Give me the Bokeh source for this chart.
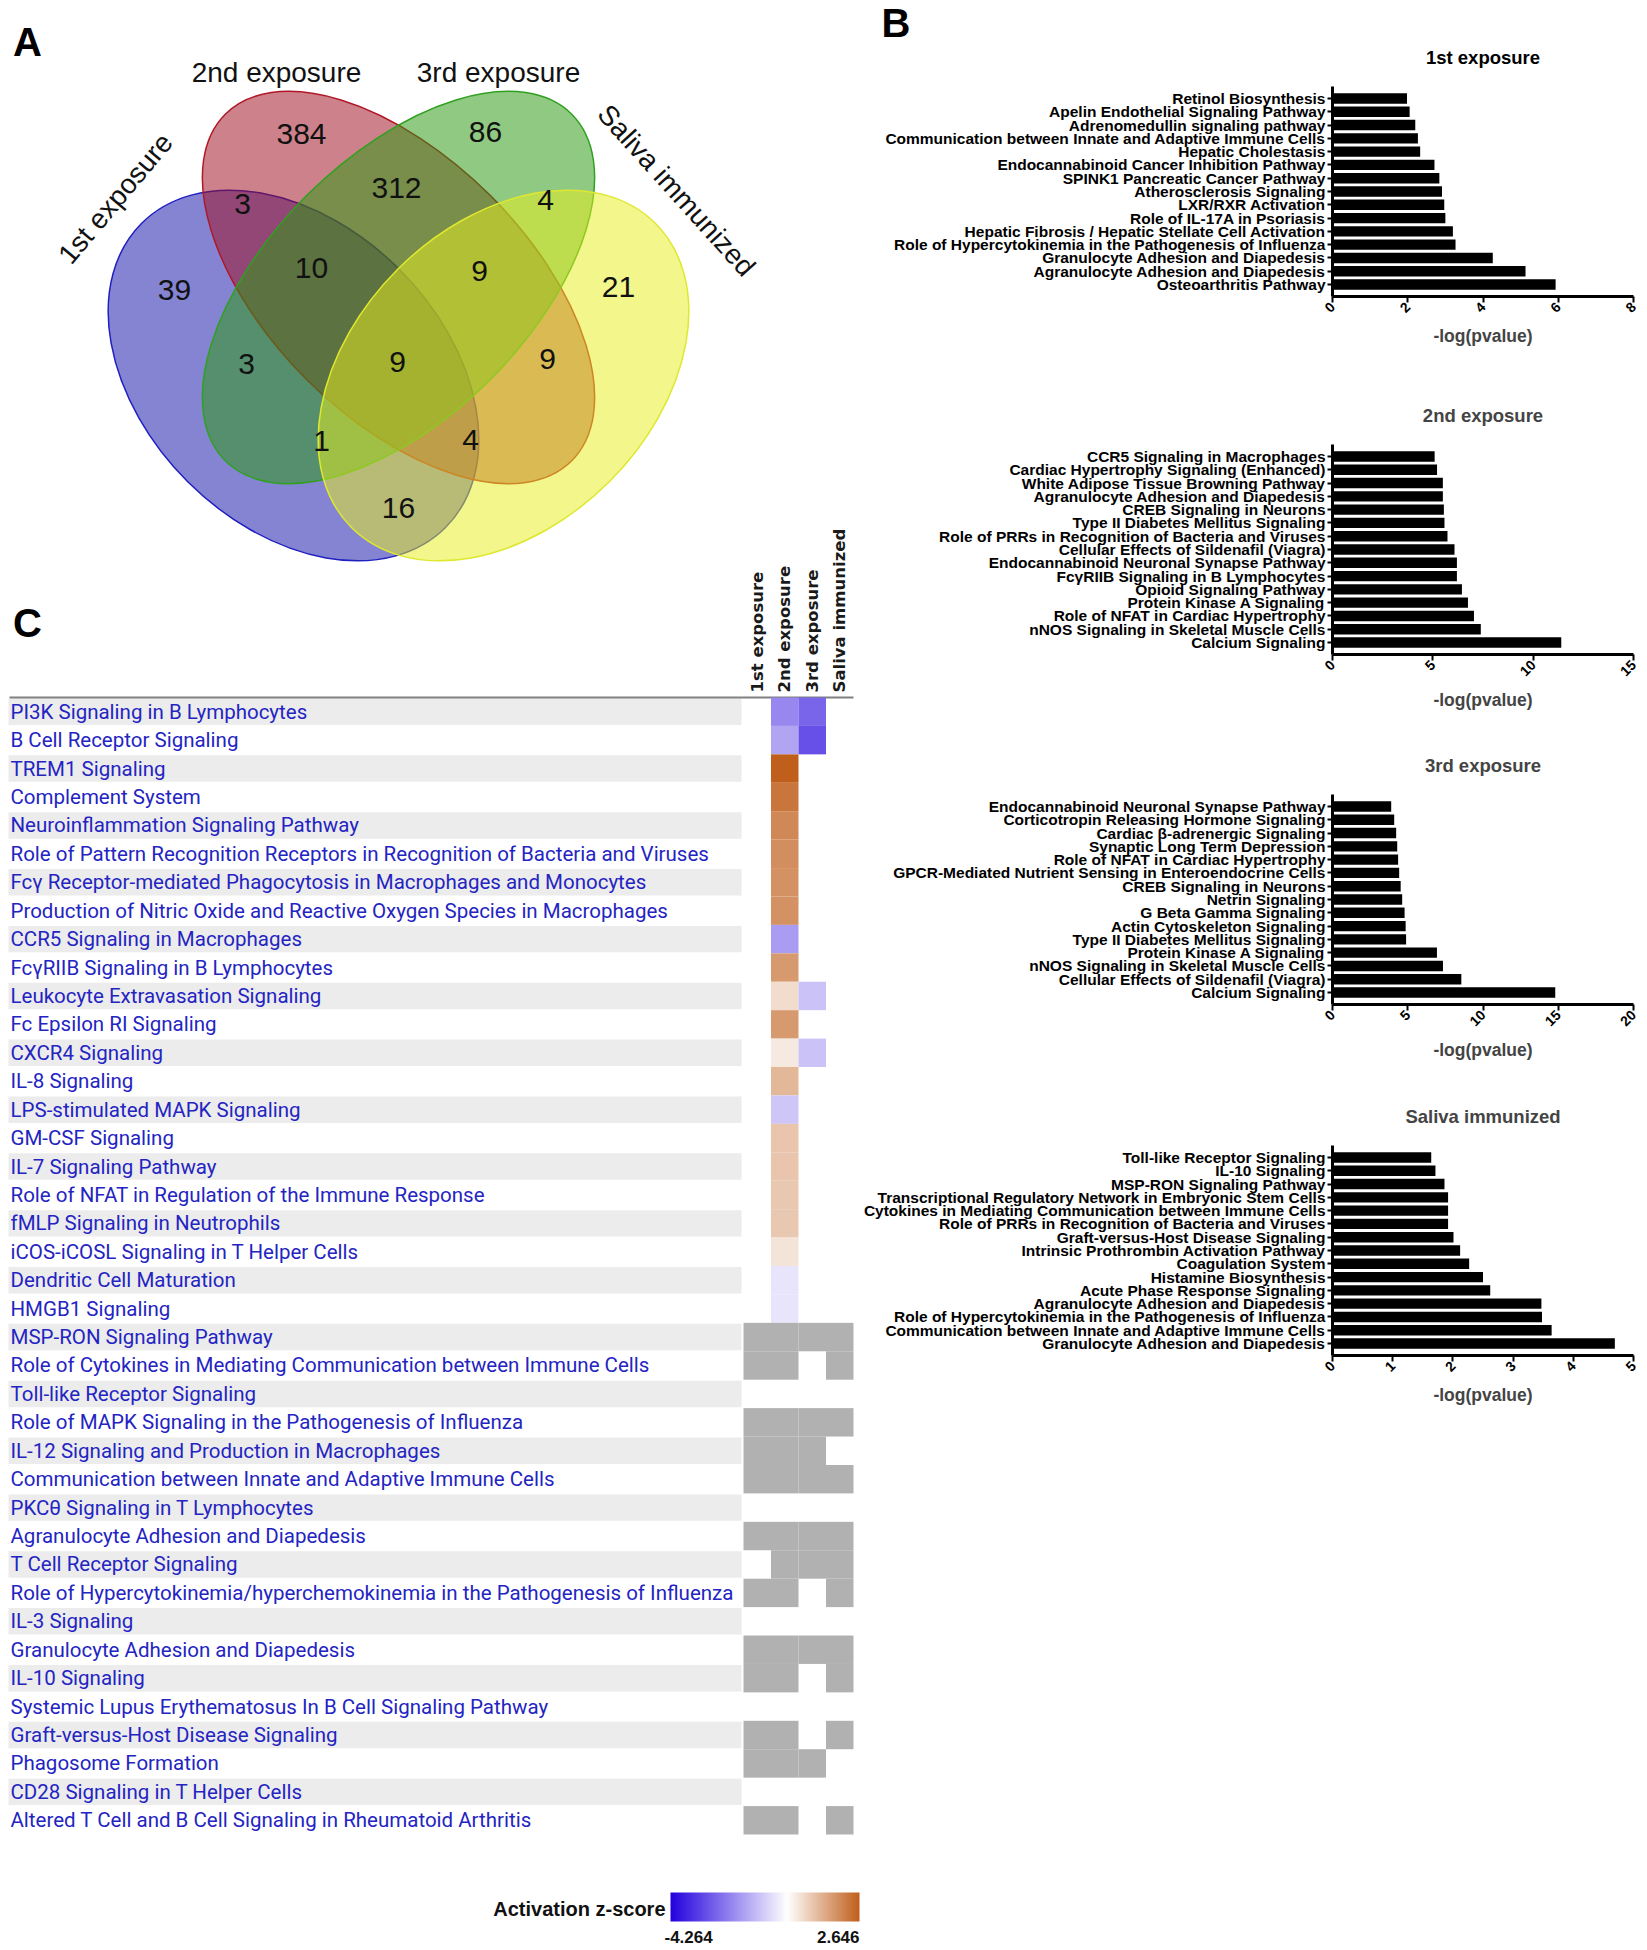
import math
from bokeh.plotting import figure
from bokeh.models import (Range1d, FactorRange, ColumnDataSource, LinearColorMapper, ColorBar,
                          FixedTicker, SingleIntervalTicker)
from bokeh.layouts import row, column
from bokeh.embed import file_html
from bokeh.resources import INLINE
from bokeh.core.properties import value

NAN = float("nan")

# ---------------- Panel A : Venn diagram ----------------
venn_sets = ["1st exposure", "2nd exposure", "3rd exposure", "Saliva immunized"]
venn_regions = ["2", "3", "12", "23", "34", "1", "123", "234", "4", "13", "1234", "24", "134", "124", "14"]
venn_counts = [384, 86, 3, 312, 4, 39, 10, 9, 21, 3, 9, 9, 1, 4, 16]

# ---------------- Panel B : top pathways, -log(pvalue) ----------------
exp1_paths = ["Retinol Biosynthesis", "Apelin Endothelial Signaling Pathway", "Adrenomedullin signaling pathway",
              "Communication between Innate and Adaptive Immune Cells", "Hepatic Cholestasis",
              "Endocannabinoid Cancer Inhibition Pathway", "SPINK1 Pancreatic Cancer Pathway",
              "Atherosclerosis Signaling", "LXR/RXR Activation", "Role of IL-17A in Psoriasis",
              "Hepatic Fibrosis / Hepatic Stellate Cell Activation",
              "Role of Hypercytokinemia in the Pathogenesis of Influenza", "Granulocyte Adhesion and Diapedesis",
              "Agranulocyte Adhesion and Diapedesis", "Osteoarthritis Pathway"]
exp1_vals = [1.98, 2.05, 2.2, 2.27, 2.33, 2.71, 2.84, 2.91, 2.97, 3.0, 3.2, 3.27, 4.26, 5.13, 5.93]

exp2_paths = ["CCR5 Signaling in Macrophages", "Cardiac Hypertrophy Signaling (Enhanced)",
              "White Adipose Tissue Browning Pathway", "Agranulocyte Adhesion and Diapedesis",
              "CREB Signaling in Neurons", "Type II Diabetes Mellitus Signaling",
              "Role of PRRs in Recognition of Bacteria and Viruses", "Cellular Effects of Sildenafil (Viagra)",
              "Endocannabinoid Neuronal Synapse Pathway", "FcγRIIB Signaling in B Lymphocytes",
              "Opioid Signaling Pathway", "Protein Kinase A Signaling", "Role of NFAT in Cardiac Hypertrophy",
              "nNOS Signaling in Skeletal Muscle Cells", "Calcium Signaling"]
exp2_vals = [5.09, 5.21, 5.5, 5.5, 5.55, 5.58, 5.73, 6.08, 6.2, 6.2, 6.45, 6.75, 7.05, 7.39, 11.4]

exp3_paths = ["Endocannabinoid Neuronal Synapse Pathway", "Corticotropin Releasing Hormone Signaling",
              "Cardiac β-adrenergic Signaling", "Synaptic Long Term Depression",
              "Role of NFAT in Cardiac Hypertrophy", "GPCR-Mediated Nutrient Sensing in Enteroendocrine Cells",
              "CREB Signaling in Neurons", "Netrin Signaling", "G Beta Gamma Signaling",
              "Actin Cytoskeleton Signaling", "Type II Diabetes Mellitus Signaling", "Protein Kinase A Signaling",
              "nNOS Signaling in Skeletal Muscle Cells", "Cellular Effects of Sildenafil (Viagra)",
              "Calcium Signaling"]
exp3_vals = [3.9, 4.1, 4.23, 4.3, 4.36, 4.43, 4.53, 4.63, 4.79, 4.86, 4.89, 6.94, 7.34, 8.56, 14.8]

sal_paths = ["Toll-like Receptor Signaling", "IL-10 Signaling", "MSP-RON Signaling Pathway",
             "Transcriptional Regulatory Network in Embryonic Stem Cells",
             "Cytokines in Mediating Communication between Immune Cells",
             "Role of PRRs in Recognition of Bacteria and Viruses", "Graft-versus-Host Disease Signaling",
             "Intrinsic Prothrombin Activation Pathway", "Coagulation System", "Histamine Biosynthesis",
             "Acute Phase Response Signaling", "Agranulocyte Adhesion and Diapedesis",
             "Role of Hypercytokinemia in the Pathogenesis of Influenza",
             "Communication between Innate and Adaptive Immune Cells", "Granulocyte Adhesion and Diapedesis"]
sal_vals = [1.64, 1.71, 1.86, 1.92, 1.92, 1.92, 2.01, 2.12, 2.27, 2.5, 2.62, 3.47, 3.48, 3.64, 4.69]

# ---------------- Panel C : activation z-score heatmap ----------------
heat_paths = ["PI3K Signaling in B Lymphocytes", "B Cell Receptor Signaling", "TREM1 Signaling",
              "Complement System", "Neuroinflammation Signaling Pathway",
              "Role of Pattern Recognition Receptors in Recognition of Bacteria and Viruses",
              "Fcγ Receptor-mediated Phagocytosis in Macrophages and Monocytes",
              "Production of Nitric Oxide and Reactive Oxygen Species in Macrophages",
              "CCR5 Signaling in Macrophages", "FcγRIIB Signaling in B Lymphocytes",
              "Leukocyte Extravasation Signaling", "Fc Epsilon RI Signaling", "CXCR4 Signaling",
              "IL-8 Signaling", "LPS-stimulated MAPK Signaling", "GM-CSF Signaling", "IL-7 Signaling Pathway",
              "Role of NFAT in Regulation of the Immune Response", "fMLP Signaling in Neutrophils",
              "iCOS-iCOSL Signaling in T Helper Cells", "Dendritic Cell Maturation", "HMGB1 Signaling",
              "MSP-RON Signaling Pathway", "Role of Cytokines in Mediating Communication between Immune Cells",
              "Toll-like Receptor Signaling", "Role of MAPK Signaling in the Pathogenesis of Influenza",
              "IL-12 Signaling and Production in Macrophages",
              "Communication between Innate and Adaptive Immune Cells", "PKCθ Signaling in T Lymphocytes",
              "Agranulocyte Adhesion and Diapedesis", "T Cell Receptor Signaling",
              "Role of Hypercytokinemia/hyperchemokinemia in the Pathogenesis of Influenza", "IL-3 Signaling",
              "Granulocyte Adhesion and Diapedesis", "IL-10 Signaling",
              "Systemic Lupus Erythematosus In B Cell Signaling Pathway", "Graft-versus-Host Disease Signaling",
              "Phagosome Formation", "CD28 Signaling in T Helper Cells",
              "Altered T Cell and B Cell Signaling in Rheumatoid Arthritis"]
# None = pathway not in that list, NAN = significant but no z-score (grey)
heat_1st = [None] * 22 + [NAN, NAN, None, NAN, NAN, NAN, None, NAN, None, NAN, None, NAN, NAN, None,
                          NAN, NAN, None, NAN]
heat_2nd = [-2.0, -1.5, 2.646, 2.25, 1.95, 1.85, 1.8, 1.8, -1.66, 1.65, 0.58, 1.65, 0.37, 1.18, -0.97,
            0.95, 0.95, 0.9, 0.9, 0.45, -0.45, -0.45,
            NAN, NAN, None, NAN, NAN, NAN, None, NAN, NAN, NAN, None, NAN, NAN, None, NAN, NAN, None, NAN]
heat_3rd = [-2.57, -2.93, None, None, None, None, None, None, None, None, -1.02, None, -1.02, None, None,
            None, None, None, None, None, None, None,
            NAN, None, None, NAN, NAN, NAN, None, NAN, NAN, None, None, NAN, None, None, None, NAN, None, None]
heat_sal = [None] * 22 + [NAN, NAN, None, NAN, None, NAN, None, NAN, NAN, NAN, None, NAN, NAN, None,
                          NAN, None, None, NAN]
heat_columns = venn_sets
z_low, z_high = -4.264, 2.646

# ---------------- styling helpers ----------------
ARIAL = "Liberation Sans, Arial, sans-serif"
BLUE_END = (34, 0, 221)
ORANGE_END = (192, 94, 26)


def zcolor(v):
    if v < 0:
        t, c = min(1.0, v / z_low), BLUE_END
    else:
        t, c = min(1.0, v / z_high), ORANGE_END
    return "#%02x%02x%02x" % tuple(int(round(255 + (ci - 255) * t)) for ci in c)


NPAL = 256
palette = [zcolor(z_low + (k + 0.5) * (z_high - z_low) / NPAL) for k in range(NPAL)]
mapper = LinearColorMapper(palette=palette, low=z_low, high=z_high, nan_color="#b1b1b1")

# ---------------- left figure (A + C) ----------------
LW, LH = 860, 1950
COL_X0, COL_W = 743.0, 27.5      # page x of first heat column, column width
ROW_Y0, ROW_H = 697.0, 28.425    # page y of first heat row, row height


def hx(X):
    return (X - COL_X0) / COL_W


def hy(Y):
    return (Y - ROW_Y0) / ROW_H


left = figure(width=LW, height=LH, x_range=Range1d(hx(0), hx(LW)), y_range=Range1d(hy(LH), hy(0)),
              x_axis_location=None, y_axis_location=None, toolbar_location=None, output_backend="svg",
              min_border=0, min_border_left=0, min_border_right=0, min_border_top=0, min_border_bottom=0,
              outline_line_color=None)
left.grid.grid_line_color = None
left.extra_x_ranges = {"vx": Range1d(0, LW)}
left.extra_y_ranges = {"vy": Range1d(-LH, 0)}

# Venn ellipses (page-pixel units, y up)
ell = ColumnDataSource(dict(
    x=[293, 398, 398, 503], y=[-375, -287, -287, -375],
    w=[430, 490, 490, 430], h=[300, 260, 260, 300],
    a=[-math.pi / 4, -math.pi / 4, math.pi / 4, math.pi / 4],
    fill=["#1414aa", "#a01020", "#2a9a10", "#e6ee20"],
    line=["#2020c0", "#b01828", "#30a020", "#dfe830"]))
left.ellipse(x="x", y="y", width="w", height="h", angle="a", fill_color="fill", fill_alpha=0.52,
             line_color="line", line_width=1.5, source=ell, x_range_name="vx", y_range_name="vy")

region_x = [301, 485, 242, 396, 545, 174, 311, 479, 618, 246, 397, 547, 321, 470, 398]
region_y = [133, 131, 203, 187, 199, 289, 267, 270, 286, 363, 361, 358, 440, 439, 507]
left.text(x=region_x, y=[-v for v in region_y], text=[str(c) for c in venn_counts],
          text_font=value(ARIAL), text_font_size="30px", text_align="center", text_baseline="middle",
          text_color="#111111", x_range_name="vx", y_range_name="vy")

set_x = [115, 276, 498, 676]
set_y = [198, 72, 72, 190]
set_ang = [math.radians(50), 0, 0, math.radians(-48)]
left.text(x=set_x, y=[-v for v in set_y], text=venn_sets, angle=set_ang, text_font=value(ARIAL),
          text_font_size="28px", text_align="center", text_baseline="middle", text_color="#111111",
          x_range_name="vx", y_range_name="vy")

left.text(x=[27, 27], y=[-41, -622], text=["A", "C"], text_font=value(ARIAL), text_font_style="bold",
          text_font_size="40px", text_align="center", text_baseline="middle", text_color="#000000",
          x_range_name="vx", y_range_name="vy")

# heatmap: label bands
nrow = len(heat_paths)
band_rows = [i for i in range(nrow) if i % 2 == 0]
left.rect(x=[(hx(8) + hx(741)) / 2] * len(band_rows), y=[i + 0.5 for i in band_rows],
          width=hx(741) - hx(8), height=0.93, fill_color="#ececec", line_color=None)
left.text(x=[hx(10)] * nrow, y=[i + 0.5 for i in range(nrow)], text=heat_paths,
          text_font=value("Roboto"), text_font_size="20.5px", text_align="left", text_baseline="middle",
          text_color="#2424c2")
left.segment(x0=[hx(9)], y0=[hy(697)], x1=[hx(853)], y1=[hy(697)], line_color="#808080", line_width=2)

cx, cy, cz = [], [], []
for ci, col in enumerate([heat_1st, heat_2nd, heat_3rd, heat_sal]):
    for ri, v in enumerate(col):
        if v is None:
            continue
        cx.append(ci + 0.5)
        cy.append(ri + 0.5)
        cz.append(v)
left.rect(x="x", y="y", width=1, height=1, source=ColumnDataSource(dict(x=cx, y=cy, z=cz)),
          fill_color={"field": "z", "transform": mapper}, line_color=None)

left.text(x=[c + 0.5 for c in range(4)], y=[hy(692)] * 4, text=heat_columns, angle=math.pi / 2,
          text_font=value("DejaVu Sans"), text_font_style="bold", text_font_size="16.5px",
          text_align="left", text_baseline="middle", text_color="#1a1a1a")

# colour bar
cb = ColorBar(color_mapper=mapper, orientation="horizontal", location=(670, LH - 1921),
              width=189, height=29, padding=0, margin=0, ticker=FixedTicker(ticks=[]),
              major_tick_line_color=None, minor_tick_line_color=None, major_label_text_font_size="0px",
              bar_line_color=None, border_line_color=None, background_fill_alpha=0, label_standoff=0)
left.add_layout(cb, "center")
left.text(x=[hx(665)], y=[hy(1908)], text=["Activation z-score"], text_font=value(ARIAL),
          text_font_style="bold", text_font_size="20px", text_align="right", text_baseline="middle",
          text_color="#111111")
left.text(x=[hx(664), hx(859)], y=[hy(1936), hy(1936)], text=["%.3f" % z_low, "%.3f" % z_high],
          text_align=["left", "right"], text_font=value(ARIAL), text_font_style="bold",
          text_font_size="17px", text_baseline="middle", text_color="#111111")

# ---------------- right column (B) ----------------
RW = 1647 - LW
FRAME_L, FRAME_R = 1331, 1633
NPAD = 0.4
TITLE_FONT = "18.5px"

# header strip: panel letter "B" and the title of the first bar chart
HEAD_H = 86
head = figure(width=RW, height=HEAD_H, x_range=Range1d(0, 1), y_range=Range1d(0, HEAD_H),
              x_axis_location=None, y_axis_location="left", toolbar_location=None, output_backend="svg",
              min_border_left=FRAME_L - LW, min_border_right=1647 - FRAME_R, min_border_top=0,
              min_border_bottom=0, outline_line_color=None)
head.grid.grid_line_color = None
head.yaxis.ticker = FixedTicker(ticks=[HEAD_H - 22])
head.yaxis.major_label_overrides = {HEAD_H - 22: "B"}
head.yaxis.axis_line_color = None
head.yaxis.major_tick_line_color = None
head.yaxis.minor_tick_line_color = None
head.yaxis.major_label_standoff = FRAME_L - 915
head.yaxis.major_label_text_font = ARIAL
head.yaxis.major_label_text_font_style = "bold"
head.yaxis.major_label_text_font_size = "40px"
head.yaxis.major_label_text_color = "#000000"
head.text(x=[0.5], y=[HEAD_H - 57], text=["1st exposure"], text_font=value(ARIAL), text_font_style="bold",
          text_font_size=TITLE_FONT, text_align="center", text_baseline="middle", text_color="#000000")


def bar_fig(title, names, vals, xmax, step, height, top):
    names_r = list(reversed(names))
    vals_r = list(reversed(vals))
    kw = dict(title=title) if title else {}
    p = figure(width=RW, height=height,
               y_range=FactorRange(factors=names_r, range_padding=NPAD, range_padding_units="absolute"),
               x_range=Range1d(0, xmax), toolbar_location=None, output_backend="svg",
               min_border_left=FRAME_L - LW, min_border_right=1647 - FRAME_R, min_border_top=top,
               min_border_bottom=height - top - 210, **kw)
    p.hbar(y=names_r, right=vals_r, left=0, height=0.78, fill_color="black", line_color=None)
    p.grid.grid_line_color = None
    p.outline_line_color = None
    if title:
        p.title.align = "center"
        p.title.text_font = ARIAL
        p.title.text_font_size = TITLE_FONT
        p.title.text_font_style = "bold"
        p.title.standoff = 38
    for ax in (p.xaxis, p.yaxis):
        ax.axis_line_width = 3
        ax.axis_line_color = "black"
        ax.major_tick_line_width = 2
        ax.major_tick_line_color = "black"
        ax.major_tick_in = 0
        ax.minor_tick_in = 0
        ax.minor_tick_out = 0
        ax.major_label_text_font = ARIAL
        ax.major_label_text_font_style = "bold"
        ax.major_label_text_color = "black"
    p.yaxis.major_tick_out = 5
    p.yaxis.major_label_standoff = 2
    p.yaxis.major_label_text_font_size = "15.5px"
    p.xaxis.ticker = SingleIntervalTicker(interval=step)
    p.xaxis.major_tick_out = 6
    p.xaxis.major_label_standoff = 2
    p.xaxis.major_label_text_font_size = "14px"
    p.xaxis.major_label_orientation = math.pi / 4
    p.xaxis.axis_label = "-log(pvalue)"
    p.xaxis.axis_label_text_font = ARIAL
    p.xaxis.axis_label_text_font_style = "bold"
    p.xaxis.axis_label_text_font_size = "17.5px"
    p.xaxis.axis_label_standoff = 6
    return p


b1 = bar_fig(None, exp1_paths, exp1_vals, 8, 2, height=294, top=0)
b2 = bar_fig("2nd exposure", exp2_paths, exp2_vals, 15, 5, height=350, top=64)
b3 = bar_fig("3rd exposure", exp3_paths, exp3_vals, 20, 5, height=351, top=64)
b4 = bar_fig("Saliva immunized", sal_paths, sal_vals, 5, 1, height=351, top=64)

layout = row(left, column(head, b1, b2, b3, b4))
open("out.html", "w").write(file_html(layout, INLINE))
